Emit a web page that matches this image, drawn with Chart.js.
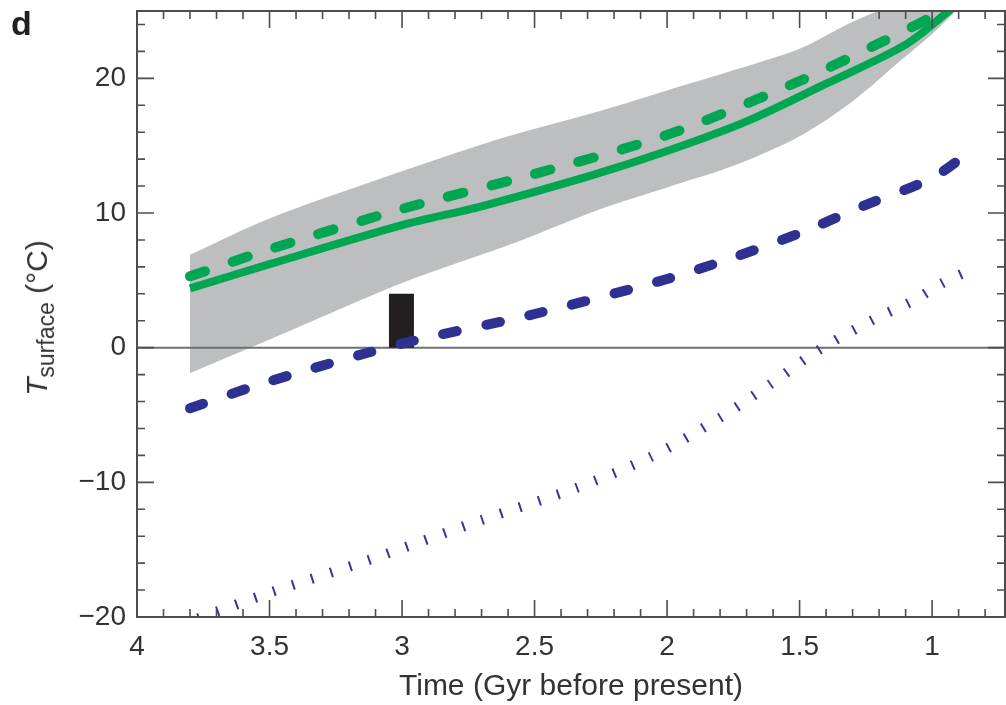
<!DOCTYPE html>
<html lang="en">
<head>
<meta charset="UTF-8">
<title>Surface temperature through time</title>
<script src="https://cdn.jsdelivr.net/npm/chart.js"></script>
<style>
    body {
        margin: 0;
        background: #fff;
        font-family: 'Liberation Sans', Arial, sans-serif;
    }
    .wrap {
        position: relative;
        width: 1006px;
        height: 705px;
    }
    #panel {
        position: absolute;
        left: 11px;
        top: 4px;
        font-size: 34px;
        font-weight: bold;
        color: #231f20;
    }
    #ytitle {
        position: absolute;
        left: 40px;
        top: 318px;
        transform: translate(-50%, -50%) rotate(-90deg);
        font-size: 30px;
        color: #333;
        white-space: nowrap;
    }
    #ytitle sub {
        font-size: 23px;
    }
</style>
</head>
<body>
<div class="wrap">
    <canvas id="chart" width="1006" height="705"></canvas>
    <div id="panel">d</div>
    <div id="ytitle"><i>T</i><sub>surface</sub> (°C)</div>
</div>

<script>
// time in Gyr before present, temperatures in °C
const bandTime = [3.8, 3.5, 3.0, 2.6, 2.25, 2.0, 1.75, 1.5, 1.3, 1.12, 1.0, 0.88];
const bandLow  = [-1.9, 0.6, 4.8, 7.6, 10.3, 11.9, 13.5, 15.7, 18.3, 21.3, 23.3, 25.6];
const bandHigh = [6.9, 9.6, 13.1, 15.7, 17.6, 19.1, 20.6, 22.2, 24.2, 25.6, 26.0, 26.0];

const greenTime  = [3.8, 3.5, 3.0, 2.7, 2.3, 2.0, 1.7, 1.4, 1.1, 0.93];
const greenSolid = [4.4, 6.2, 9.1, 10.5, 12.7, 14.6, 16.8, 19.6, 22.5, 25.1];

const greenDashTime = [3.8, 3.5, 3.0, 2.5, 2.0, 1.5, 1.2, 1.0, 0.95];
const greenDash     = [5.3, 7.3, 10.3, 12.9, 15.8, 19.8, 22.6, 24.6, 25.4];

const blueDashTime = [3.8, 3.5, 3.0, 2.5, 2.0, 1.75, 1.5, 1.25, 1.0, 0.855];
const blueDash     = [-4.5, -2.5, 0.3, 2.5, 5.1, 6.7, 8.5, 10.6, 12.6, 14.6];

const blueDotTime = [3.77, 3.5, 3.13, 2.7, 2.34, 2.06, 1.8, 1.61, 1.43, 1.22, 1.08, 0.96, 0.83];
const blueDot     = [-20.1, -18.2, -15.8, -12.8, -10.4, -8.1, -5.2, -2.7, -0.2, 2.1, 3.4, 4.8, 6.0];

// black box: time span and temperature range
const boxTime = [3.05, 2.955];
const boxTemp = [0, 4];

const xTicks = [4, 3.5, 3, 2.5, 2, 1.5, 1];
const yTicks = [-20, -10, 0, 10, 20];
const xMin = 0.725, xMax = 4, yMin = -20, yMax = 25;

const pts = (xs, ys) => xs.map((x, i) => ({ x: x, y: ys[i] }));

const GREEN = '#00a651';
const BLUE = '#2e3192';
const TEXT = '#333333';
const FONT = "'Liberation Sans', Arial, sans-serif";

// frame, inward ticks on all sides and the zero line
const framePlugin = {
    id: 'frame',
    afterDatasetDraw(chart, args) {
        if (args.index !== 1) return; // right after the grey band
        const { ctx, chartArea: a, scales: { y } } = chart;
        const y0 = y.getPixelForValue(0);
        ctx.save();
        ctx.strokeStyle = '#707072';
        ctx.lineWidth = 2;
        ctx.beginPath();
        ctx.moveTo(a.left, y0);
        ctx.lineTo(a.right, y0);
        ctx.stroke();
        ctx.restore();
    },
    afterDraw(chart) {
        const { ctx, chartArea: a, scales: { x, y } } = chart;
        ctx.save();
        ctx.strokeStyle = '#4d4d4f';
        ctx.lineWidth = 2;
        ctx.strokeRect(a.left, a.top, a.right - a.left, a.bottom - a.top);
        ctx.lineWidth = 1.6;
        ctx.beginPath();
        for (let v = yMin; v <= 24; v += 2) {
            const p = y.getPixelForValue(v);
            const len = v % 10 === 0 ? 17 : 8;
            ctx.moveTo(a.left, p); ctx.lineTo(a.left + len, p);
            ctx.moveTo(a.right, p); ctx.lineTo(a.right - len, p);
        }
        for (let k = 40; k >= 8; k--) {
            const p = x.getPixelForValue(k / 10);
            const len = k % 5 === 0 ? 17 : 8;
            ctx.moveTo(p, a.bottom); ctx.lineTo(p, a.bottom - len);
            ctx.moveTo(p, a.top); ctx.lineTo(p, a.top + len);
        }
        ctx.stroke();
        ctx.restore();
    }
};

// lower order is drawn on top
const line = (data, color, width, dash, cap, order) => ({
    data: data,
    borderColor: color,
    borderWidth: width,
    borderDash: dash,
    borderCapStyle: cap,
    pointRadius: 0,
    fill: false,
    tension: 0.3,
    clip: 0,
    order: order
});

const noPad = s => {
    s.paddingTop = 0;
    s.paddingBottom = 0;
    s.paddingLeft = 0;
    s.paddingRight = 0;
};

new Chart(document.getElementById('chart'), {
    type: 'line',
    data: {
        datasets: [
            {
                data: pts(bandTime, bandLow),
                borderWidth: 0,
                pointRadius: 0,
                fill: false,
                tension: 0.3,
                clip: 0,
                order: 10
            },
            {
                data: pts(bandTime, bandHigh),
                borderWidth: 0,
                pointRadius: 0,
                backgroundColor: '#bcbec0',
                fill: '-1',
                tension: 0.3,
                clip: 0,
                order: 10
            },
            {
                data: [
                    { x: boxTime[0], y: boxTemp[0] },
                    { x: boxTime[0], y: boxTemp[1] },
                    { x: boxTime[1], y: boxTemp[1] },
                    { x: boxTime[1], y: boxTemp[0] }
                ],
                borderWidth: 0,
                pointRadius: 0,
                backgroundColor: '#231f20',
                fill: 'origin',
                tension: 0,
                clip: 0,
                order: 8
            },
            line(pts(blueDotTime, blueDot), '#3434a0', 10, [2, 18], 'butt', 5),
            line(pts(blueDashTime, blueDash), BLUE, 10, [14, 30], 'round', 4),
            line(pts(greenDashTime, greenDash), GREEN, 10, [16, 29], 'round', 3),
            line(pts(greenTime, greenSolid), GREEN, 8, [], 'butt', 2)
        ]
    },
    options: {
        responsive: false,
        animation: false,
        layout: { padding: { top: 11, right: 1, left: 0, bottom: 0 } },
        plugins: {
            legend: { display: false },
            tooltip: { enabled: false }
        },
        scales: {
            x: {
                type: 'linear',
                reverse: true,
                min: xMin,
                max: xMax,
                afterBuildTicks: s => { s.ticks = xTicks.map(v => ({ value: v })); },
                afterFit: s => { s.height = 88; noPad(s); },
                grid: { display: false, drawTicks: false },
                border: { display: false },
                ticks: {
                    autoSkip: false,
                    maxRotation: 0,
                    padding: 13,
                    color: TEXT,
                    font: { family: FONT, size: 28 },
                    callback: v => String(v)
                },
                title: {
                    display: true,
                    text: 'Time (Gyr before present)',
                    color: TEXT,
                    font: { family: FONT, size: 30 },
                    padding: { top: 0, bottom: 0 }
                }
            },
            y: {
                min: yMin,
                max: yMax,
                afterBuildTicks: s => { s.ticks = yTicks.map(v => ({ value: v })); },
                afterFit: s => { s.width = 137; noPad(s); },
                grid: { display: false, drawTicks: false },
                border: { display: false },
                ticks: {
                    padding: 11,
                    color: TEXT,
                    font: { family: FONT, size: 28 },
                    callback: v => v < 0 ? '\u2212' + Math.abs(v) : String(v)
                }
            }
        }
    },
    plugins: [framePlugin]
});
</script>
</body>
</html>
